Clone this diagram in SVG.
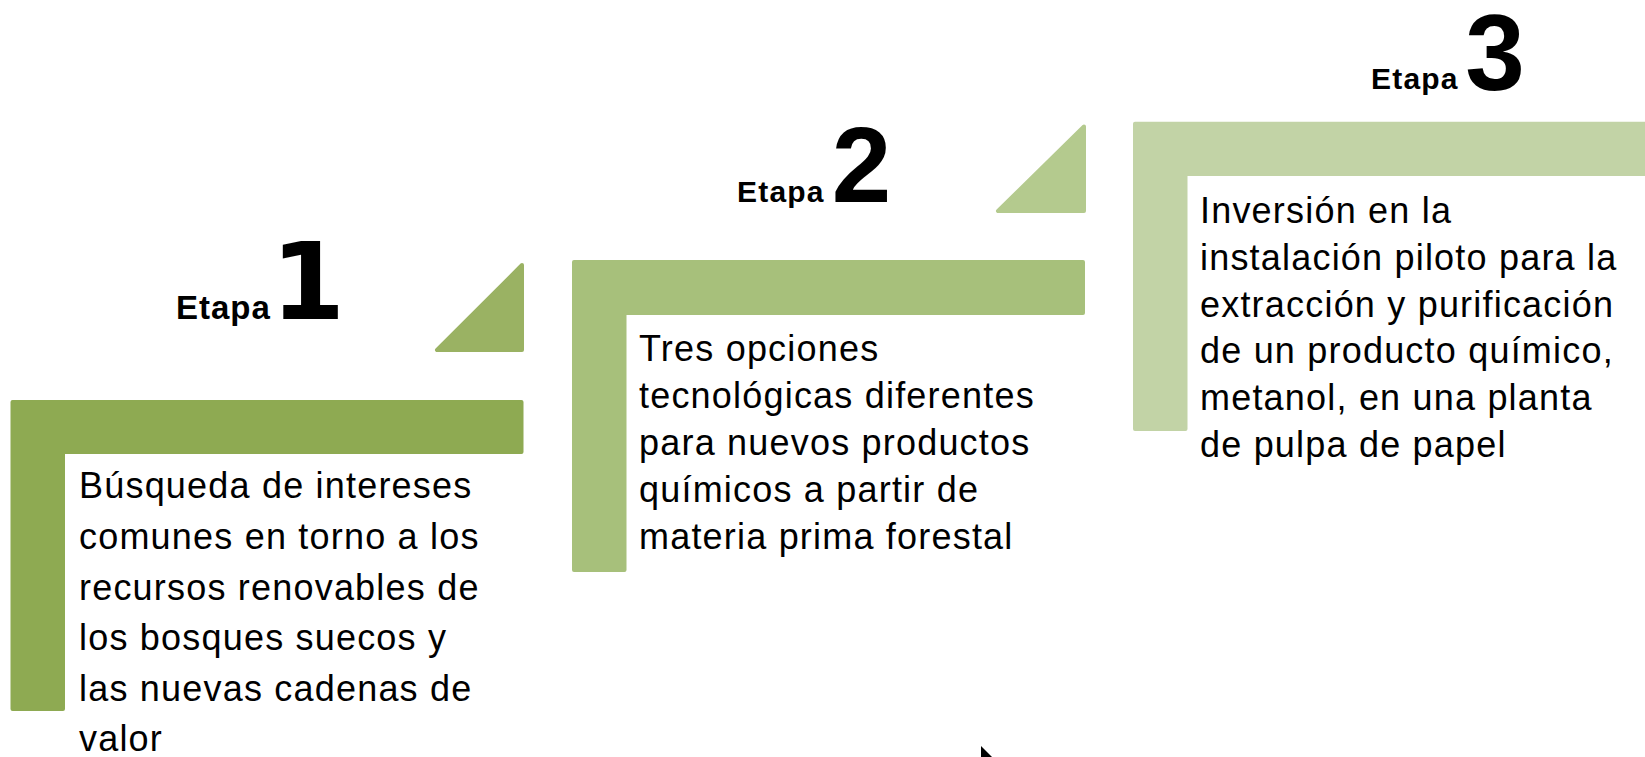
<svg xmlns="http://www.w3.org/2000/svg" width="1645" height="757" viewBox="0 0 1645 757">
<style>
.shape{stroke-width:4;stroke-linejoin:round}
.s1{fill:#8EAA52;stroke:#8EAA52}
.s2{fill:#A7C07B;stroke:#A7C07B}
.s3{fill:#C2D3A6;stroke:#C2D3A6}
.t1{fill:#9AB263;stroke:#9AB263}
.t2{fill:#B4CA8E;stroke:#B4CA8E}
.body{font-family:"Liberation Sans",Arial,sans-serif;font-size:36px;letter-spacing:1.2px;fill:#000}
.etapa{font-family:"Liberation Sans",Arial,sans-serif;font-weight:bold;fill:#000}
.num{font-family:"Liberation Sans",Arial,sans-serif;font-weight:bold;font-size:107px;fill:#000;text-anchor:middle}
</style>
<rect width="1645" height="757" fill="#FFFFFF"/>
<g id="connectors">
<path class="shape t1" d="M437,350 H522 V265 Z"/>
<path class="shape t2" d="M998,211 H1084 V126.5 Z"/>
</g>
<g id="stage1">
<path class="shape s1" d="M12.5,402 H521.5 V452 H63 V709 H12.5 Z"/>
<text class="etapa" x="176" y="319" font-size="33" letter-spacing="1">Etapa</text>
<text class="num" x="308" y="319" style="font-family:'DejaVu Sans',sans-serif" font-size="105">1</text>
<text class="body" x="79">
<tspan x="79" y="498">Búsqueda de intereses</tspan>
<tspan x="79" y="549">comunes en torno a los</tspan>
<tspan x="79" y="600">recursos renovables de</tspan>
<tspan x="79" y="650">los bosques suecos y</tspan>
<tspan x="79" y="701">las nuevas cadenas de</tspan>
<tspan x="79" y="751">valor</tspan>
</text>
</g>
<g id="stage2">
<path class="shape s2" d="M574,262 H1083 V313 H624.5 V570 H574 Z"/>
<text class="etapa" x="737" y="202" font-size="30" letter-spacing="1.2">Etapa</text>
<text class="num" x="861.5" y="201.5">2</text>
<text class="body">
<tspan x="639" y="361">Tres opciones</tspan>
<tspan x="639" y="408">tecnológicas diferentes</tspan>
<tspan x="639" y="455">para nuevos productos</tspan>
<tspan x="639" y="502">químicos a partir de</tspan>
<tspan x="639" y="549">materia prima forestal</tspan>
</text>
</g>
<g id="stage3">
<path class="shape s3" d="M1135,123.7 H1652 V174 H1185.5 V429 H1135 Z"/>
<text class="etapa" x="1371" y="89" font-size="30" letter-spacing="1.2">Etapa</text>
<text class="num" x="1495" y="90" font-size="106">3</text>
<text class="body">
<tspan x="1200" y="223">Inversión en la</tspan>
<tspan x="1200" y="270">instalación piloto para la</tspan>
<tspan x="1200" y="316.5">extracción y purificación</tspan>
<tspan x="1200" y="363">de un producto químico,</tspan>
<tspan x="1200" y="410">metanol, en una planta</tspan>
<tspan x="1200" y="457">de pulpa de papel</tspan>
</text>
</g>
<path id="cursor" d="M981,746 L981,757 L992,757 Z" fill="#000"/>
</svg>
